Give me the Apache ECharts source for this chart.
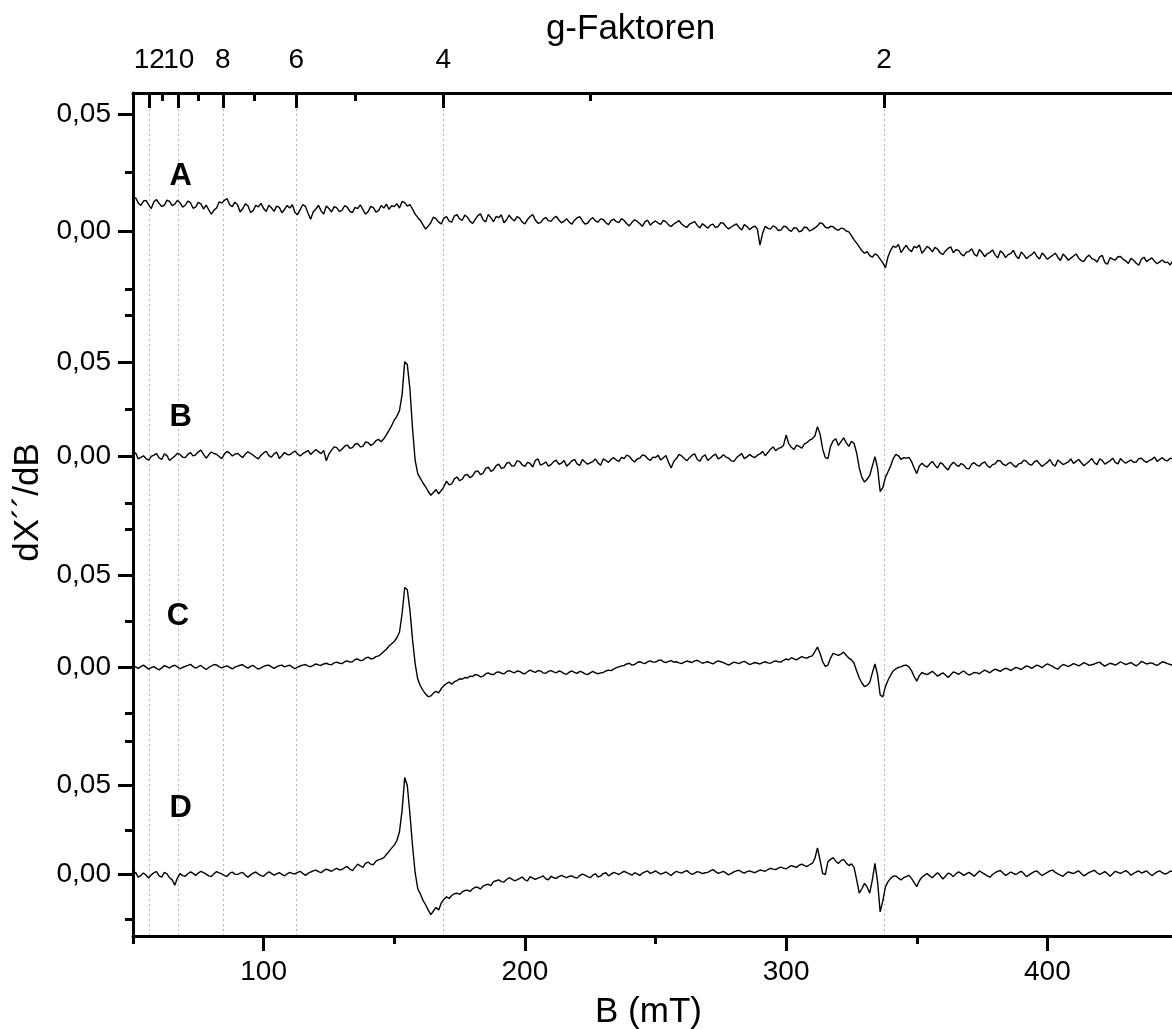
<!DOCTYPE html>
<html>
<head>
<meta charset="utf-8">
<style>html,body{margin:0;padding:0;background:#fff;}#chart{width:1172px;height:1029px;}</style>
<script src="https://cdn.jsdelivr.net/npm/echarts@6/dist/echarts.min.js"></script>
</head>
<body>
<div id="chart"></div>
<script>
// ---- data ----
const fieldStart = 50;   // mT
const fieldStep = 1;     // mT
const hvOverMuB = 675;   // g * B (mT)
const gMajor = [12, 10, 8, 6, 4, 2];
const gMinor = [11, 9, 7, 5, 3];
const bMajorTicks = [100, 200, 300, 400];
const bMinorTicks = [50, 150, 250, 350, 450];
const yMajorTicks = [0, 0.05];
const panelNames = ['A', 'B', 'C', 'D'];
const panelLabelX = [68.3, 68.3, 67.2, 68.3];
const panelLabelY = [0.0231, 0.0211, 0.0278, 0.0371];

const traceA = [
.0135,.0142,.0120,.0109,.0128,.0131,.0112,.0096,.0125,.0134,.0118,.0105,.0110,.0132,.0127,.0108,.0115,.0131,.0121,.0102,
.0110,.0128,.0121,.0097,.0103,.0122,.0116,.0094,.0111,.0090,.0072,.0089,.0098,.0125,.0119,.0131,.0139,.0112,.0104,.0123,
.0112,.0081,.0095,.0116,.0108,.0079,.0087,.0110,.0103,.0118,.0096,.0083,.0110,.0099,.0084,.0106,.0101,.0078,.0092,.0109,
.0098,.0112,.0079,.0070,.0091,.0113,.0105,.0076,.0050,.0082,.0094,.0110,.0086,.0072,.0107,.0096,.0081,.0104,.0099,.0083,
.0088,.0108,.0102,.0084,.0079,.0101,.0096,.0112,.0091,.0072,.0083,.0105,.0100,.0081,.0087,.0109,.0098,.0115,.0092,.0108,
.0104,.0117,.0098,.0126,.0121,.0106,.0113,.0094,.0072,.0058,.0045,.0026,.0008,.0021,.0035,.0060,.0052,.0038,.0030,.0055,
.0061,.0042,.0038,.0064,.0070,.0052,.0045,.0068,.0059,.0041,.0032,.0050,.0066,.0073,.0048,.0039,.0071,.0056,.0040,.0062,
.0057,.0069,.0035,.0048,.0068,.0052,.0043,.0061,.0055,.0038,.0030,.0049,.0062,.0070,.0047,.0033,.0036,.0050,.0058,.0044,
.0041,.0055,.0063,.0047,.0035,.0042,.0052,.0038,.0029,.0046,.0056,.0061,.0044,.0030,.0033,.0049,.0057,.0043,.0038,.0052,
.0049,.0035,.0027,.0044,.0051,.0040,.0036,.0053,.0045,.0031,.0022,.0037,.0048,.0041,.0031,.0020,.0040,.0046,.0025,.0036,
.0043,.0034,.0028,.0045,.0039,.0026,.0019,.0030,.0037,.0044,.0030,.0021,.0016,.0029,.0035,.0040,.0024,.0013,.0031,.0022,
.0012,.0025,.0029,.0014,.0020,.0036,.0033,.0018,.0009,.0017,.0024,.0030,.0015,.0004,.0027,.0019,.0006,.0015,.0021,.0008,
-.0060,-.0010,.0020,.0011,.0008,.0022,.0016,.0002,.0004,.0020,.0018,.0005,-.0002,.0014,.0012,-.0004,.0001,.0017,.0014,.0000,
.0006,.0013,.0022,.0035,.0031,.0016,.0012,.0020,.0018,.0008,.0003,.0012,.0010,.0000,-.0004,-.0020,-.0038,-.0052,-.0068,-.0084,
-.0095,-.0088,-.0105,-.0112,-.0098,-.0104,-.0120,-.0135,-.0158,-.0110,-.0082,-.0065,-.0070,-.0058,-.0092,-.0075,-.0061,-.0079,-.0088,-.0066,
-.0072,-.0060,-.0095,-.0081,-.0066,-.0074,-.0089,-.0070,-.0078,-.0094,-.0101,-.0085,-.0074,-.0068,-.0093,-.0080,-.0083,-.0099,-.0106,-.0090,
-.0088,-.0076,-.0099,-.0108,-.0079,-.0092,-.0110,-.0097,-.0092,-.0081,-.0102,-.0115,-.0085,-.0095,-.0114,-.0101,-.0096,-.0083,-.0107,-.0119,
-.0090,-.0102,-.0118,-.0108,-.0101,-.0089,-.0109,-.0120,-.0094,-.0106,-.0121,-.0112,-.0104,-.0095,-.0112,-.0126,-.0098,-.0110,-.0125,-.0116,
-.0107,-.0098,-.0116,-.0127,-.0130,-.0112,-.0103,-.0118,-.0122,-.0133,-.0111,-.0104,-.0135,-.0142,-.0114,-.0120,-.0124,-.0110,-.0109,-.0121,
-.0128,-.0139,-.0117,-.0125,-.0138,-.0146,-.0120,-.0112,-.0131,-.0122,-.0115,-.0129,-.0140,-.0132,-.0124,-.0135,-.0133,-.0145,-.0127,-.0119,
-.0135
];
const traceB = [
.0010,.0021,-.0012,-.0004,.0005,-.0010,-.0018,.0002,.0008,.0016,-.0006,-.0015,.0015,.0006,-.0020,-.0008,.0003,.0018,.0012,-.0003,
-.0005,.0012,.0022,.0004,.0010,.0026,.0035,.0012,-.0008,.0010,.0025,.0017,.0012,.0001,-.0010,.0015,.0028,.0019,.0004,.0013,
.0018,.0006,-.0004,.0014,.0026,.0017,.0008,-.0003,-.0012,.0008,.0020,.0029,.0006,-.0002,.0015,.0024,-.0009,.0005,.0022,.0012,
.0010,.0021,.0030,.0015,.0004,.0016,.0024,.0033,.0012,.0025,.0038,.0027,.0016,.0034,-.0022,.0014,.0035,.0052,.0048,.0030,
.0040,.0056,.0062,.0045,.0048,.0066,.0070,.0052,.0055,.0078,.0075,.0060,.0068,.0085,.0092,.0080,.0095,.0118,.0140,.0165,
.0195,.0215,.0245,.0330,.0505,.0490,.0360,.0150,-.0020,-.0090,-.0115,-.0140,-.0160,-.0185,-.0205,-.0190,-.0175,-.0198,-.0180,-.0160,
-.0130,-.0150,-.0145,-.0118,-.0108,-.0128,-.0120,-.0098,-.0095,-.0112,-.0102,-.0080,-.0075,-.0095,-.0088,-.0062,-.0055,-.0078,-.0070,-.0048,
-.0040,-.0062,-.0058,-.0035,-.0030,-.0050,-.0048,-.0022,-.0025,-.0044,-.0052,-.0030,-.0036,-.0055,-.0020,-.0012,-.0045,-.0038,-.0028,-.0050,
-.0042,-.0026,-.0018,-.0040,-.0035,-.0020,-.0050,-.0038,-.0022,-.0014,-.0038,-.0047,-.0015,-.0028,-.0040,-.0033,-.0026,-.0012,-.0033,-.0045,
-.0012,-.0020,-.0030,-.0014,-.0005,-.0018,-.0025,-.0004,-.0010,.0008,.0002,-.0016,-.0028,-.0012,-.0008,.0010,.0005,-.0010,-.0020,-.0002,
-.0004,.0008,-.0018,-.0006,.0006,-.0030,-.0060,-.0025,-.0010,.0012,.0004,-.0010,-.0022,-.0005,.0008,.0015,-.0015,-.0024,.0000,.0010,
-.0020,-.0008,.0005,.0014,-.0012,-.0004,.0010,-.0002,-.0008,-.0022,-.0025,-.0006,.0006,.0016,-.0010,-.0001,.0012,.0002,-.0005,.0008,
.0015,.0028,.0005,.0022,.0040,.0052,.0032,.0044,.0048,.0060,.0115,.0070,.0050,.0038,.0062,.0055,.0045,.0068,.0075,.0088,
.0095,.0110,.0160,.0120,.0040,-.0005,-.0010,.0055,.0085,.0095,.0060,.0080,.0100,.0075,.0055,.0082,.0070,.0020,-.0060,-.0110,
-.0135,-.0120,-.0100,-.0050,.0000,-.0060,-.0185,-.0165,-.0110,-.0080,-.0050,-.0010,.0012,.0005,-.0015,-.0005,-.0008,-.0004,-.0025,-.0060,
-.0090,-.0050,-.0035,-.0048,-.0055,-.0038,-.0025,-.0046,-.0060,-.0032,-.0040,-.0058,-.0070,-.0045,-.0030,-.0042,-.0052,-.0036,-.0045,-.0062,
-.0065,-.0040,-.0032,-.0045,-.0050,-.0035,-.0028,-.0048,-.0058,-.0042,-.0038,-.0020,-.0022,-.0040,-.0048,-.0036,-.0030,-.0046,-.0055,-.0038,
-.0035,-.0018,-.0025,-.0040,-.0045,-.0028,-.0020,-.0038,-.0052,-.0040,-.0030,-.0015,-.0040,-.0050,-.0018,-.0030,-.0042,-.0035,-.0028,-.0012,
-.0036,-.0025,-.0015,-.0032,-.0048,-.0036,-.0025,-.0010,-.0032,-.0042,-.0012,-.0020,-.0040,-.0030,-.0022,-.0008,-.0030,-.0038,-.0010,-.0024,
-.0035,-.0025,-.0018,-.0030,-.0028,-.0010,-.0008,-.0022,-.0030,-.0020,-.0015,-.0002,-.0025,-.0015,-.0005,-.0018,-.0022,-.0008,-.0012,-.0025,
-.0018
];
const traceC = [
.0008,.0002,-.0006,.0004,.0012,.0001,-.0010,-.0002,.0004,-.0006,-.0014,-.0003,.0009,.0003,-.0004,.0006,.0011,.0002,-.0008,-.0001,
.0005,.0010,.0016,.0004,-.0005,.0003,.0010,-.0002,-.0012,-.0001,.0007,.0015,.0013,.0002,-.0003,.0004,.0008,.0000,-.0009,.0001,
.0006,.0011,.0014,.0003,-.0004,.0005,.0010,-.0001,-.0010,-.0003,.0005,.0010,.0012,.0002,-.0006,.0003,.0009,.0012,.0002,.0008,
.0011,.0001,-.0008,.0001,.0007,.0012,.0015,.0008,.0003,.0011,.0018,.0013,.0010,.0018,.0022,.0016,.0014,.0024,.0028,.0022,
.0020,.0030,.0035,.0028,.0030,.0042,.0045,.0036,.0038,.0050,.0055,.0046,.0048,.0058,.0062,.0072,.0085,.0098,.0115,.0128,
.0140,.0160,.0190,.0290,.0432,.0420,.0310,.0150,.0020,-.0065,-.0100,-.0125,-.0145,-.0160,-.0155,-.0140,-.0130,-.0138,-.0115,-.0100,
-.0088,-.0080,-.0092,-.0078,-.0072,-.0062,-.0065,-.0055,-.0058,-.0048,-.0050,-.0040,-.0042,-.0052,-.0048,-.0035,-.0030,-.0038,-.0040,-.0028,
-.0025,-.0032,-.0036,-.0024,-.0018,-.0025,-.0030,-.0020,-.0022,-.0032,-.0035,-.0024,-.0015,-.0022,-.0028,-.0018,-.0020,-.0030,-.0032,-.0022,
-.0018,-.0025,-.0030,-.0020,-.0024,-.0034,-.0038,-.0026,-.0020,-.0028,-.0033,-.0022,-.0026,-.0036,-.0040,-.0030,-.0022,-.0030,-.0035,-.0030,
-.0028,-.0020,-.0015,-.0018,-.0010,-.0002,.0002,.0008,.0010,.0018,.0022,.0012,.0015,.0026,.0030,.0024,.0020,.0030,.0035,.0028,
.0028,.0036,.0040,.0030,.0025,.0032,.0036,.0028,.0030,.0024,.0020,.0028,.0034,.0030,.0026,.0035,.0038,.0030,.0022,.0027,
.0030,.0024,.0018,.0028,.0035,.0030,.0025,.0018,.0012,.0020,.0028,.0024,.0020,.0028,.0032,.0024,.0015,.0020,.0026,.0022,
.0018,.0025,.0030,.0024,.0022,.0030,.0035,.0030,.0028,.0038,.0045,.0040,.0052,.0046,.0040,.0050,.0058,.0052,.0050,.0058,
.0062,.0085,.0110,.0075,.0030,.0005,.0012,.0050,.0075,.0070,.0065,.0072,.0082,.0065,.0050,.0040,.0022,-.0020,-.0058,-.0085,
-.0105,-.0098,-.0082,-.0030,.0018,-.0040,-.0150,-.0160,-.0105,-.0070,-.0042,-.0020,-.0008,.0000,.0002,.0010,.0012,.0002,-.0018,-.0050,
-.0075,-.0045,-.0028,-.0035,-.0040,-.0030,-.0022,-.0035,-.0048,-.0038,-.0030,-.0042,-.0055,-.0040,-.0025,-.0030,-.0038,-.0028,-.0020,-.0032,
-.0042,-.0035,-.0028,-.0030,-.0035,-.0024,-.0015,-.0022,-.0030,-.0018,-.0010,-.0016,-.0022,-.0012,-.0005,-.0010,-.0018,-.0008,.0000,-.0006,
-.0012,-.0002,.0008,.0002,-.0006,.0004,.0012,.0006,-.0002,.0010,.0018,.0012,.0005,-.0004,-.0010,.0004,.0015,.0010,.0004,.0012,
.0020,.0014,.0008,.0016,.0025,.0018,.0010,.0014,.0018,.0024,.0028,.0016,.0006,.0014,.0022,.0018,.0012,.0020,.0030,.0022,
.0015,.0020,.0026,.0016,.0008,.0018,.0032,.0025,.0018,.0022,.0024,.0016,.0010,.0020,.0030,.0026,.0020,.0015,.0012,.0020,
.0025
];
const traceD = [
.0005,.0012,-.0015,-.0006,.0008,-.0004,-.0020,-.0002,.0010,.0016,-.0008,-.0015,.0012,.0004,-.0018,-.0030,-.0060,-.0020,.0005,-.0006,
-.0010,.0004,.0015,.0006,-.0005,.0008,.0018,.0010,.0002,-.0008,-.0012,.0004,.0016,.0009,.0004,-.0006,-.0010,.0006,.0014,.0002,
.0000,.0008,.0012,-.0004,-.0015,-.0002,.0008,.0014,.0002,-.0006,-.0010,.0004,.0015,.0006,-.0004,.0003,.0010,.0001,-.0008,.0004,
.0012,.0006,.0003,.0012,.0018,.0006,-.0005,.0006,.0014,.0020,.0025,.0016,.0010,.0022,.0030,.0024,.0018,.0028,.0035,.0026,
.0028,.0038,.0045,.0030,.0022,.0040,.0058,.0048,.0040,.0062,.0070,.0058,.0055,.0075,.0082,.0088,.0095,.0112,.0130,.0148,
.0165,.0190,.0240,.0360,.0545,.0500,.0340,.0160,.0010,-.0080,-.0110,-.0145,-.0170,-.0200,-.0225,-.0205,-.0185,-.0200,-.0160,-.0140,
-.0125,-.0135,-.0118,-.0108,-.0105,-.0112,-.0098,-.0090,-.0088,-.0095,-.0080,-.0072,-.0072,-.0082,-.0065,-.0058,-.0055,-.0062,-.0040,-.0035,
-.0030,-.0040,-.0042,-.0028,-.0018,-.0026,-.0035,-.0030,-.0022,-.0014,-.0030,-.0036,-.0012,-.0020,-.0028,-.0020,-.0015,-.0008,-.0024,-.0030,
-.0010,-.0018,-.0022,-.0012,-.0005,-.0012,-.0018,-.0010,-.0008,-.0016,-.0020,-.0006,.0002,-.0004,-.0012,-.0018,-.0004,.0004,-.0015,-.0008,
.0005,.0010,-.0008,.0002,.0012,.0006,.0000,.0010,.0018,.0010,.0004,-.0004,.0010,.0004,-.0005,.0008,.0015,.0020,.0006,.0012,
.0020,.0010,.0002,.0008,.0014,.0004,-.0006,.0008,.0018,.0012,.0008,.0016,.0022,.0010,.0000,.0008,.0016,.0012,.0005,.0010,
.0012,.0020,.0028,.0016,.0006,.0012,.0018,.0008,-.0002,.0006,.0015,.0020,.0024,.0014,.0008,.0016,.0020,.0015,.0010,.0018,
.0025,.0022,.0018,.0028,.0035,.0030,.0028,.0036,.0042,.0036,.0032,.0042,.0050,.0045,.0040,.0052,.0058,.0050,.0045,.0055,
.0062,.0090,.0150,.0080,.0005,.0000,.0072,.0085,.0095,.0075,.0062,.0078,.0085,.0065,.0050,.0060,.0040,-.0030,-.0105,-.0080,
-.0050,-.0070,-.0105,-.0030,.0062,-.0040,-.0210,-.0150,-.0070,-.0040,-.0022,-.0010,-.0008,-.0020,-.0030,-.0018,-.0012,-.0005,-.0022,-.0045,
-.0068,-.0035,-.0015,-.0004,.0005,-.0008,-.0018,-.0002,.0010,-.0006,-.0025,-.0010,.0008,.0002,-.0012,.0004,.0015,.0006,-.0005,.0004,
.0012,.0002,-.0010,.0006,.0020,.0010,.0002,-.0008,-.0015,.0000,.0010,.0018,.0022,.0008,-.0005,.0004,.0014,.0006,.0000,.0010,
.0018,.0004,-.0012,-.0002,.0008,.0016,.0020,.0006,-.0006,.0004,.0012,.0020,.0025,.0012,.0003,-.0004,-.0010,.0004,.0015,.0010,
.0005,.0014,.0020,.0006,-.0008,.0002,.0012,.0018,.0024,.0010,.0000,.0008,.0016,.0004,-.0010,.0004,.0018,.0012,.0006,.0014,
.0022,.0012,-.0004,.0006,.0014,.0020,.0008,.0014,.0020,.0006,-.0006,.0004,.0015,.0020,.0010,.0002,.0008,.0018,.0018,.0012,
.0008
];
const traces = [traceA, traceB, traceC, traceD];
const yMinorTicks = [[-0.025, 0.025], [-0.025, 0.025, 0.075], [-0.025, 0.025, 0.075], [-0.025, 0.025, 0.075]];

// ---- layout ----
const FONT = '"Liberation Sans", Arial, Helvetica, sans-serif';
const gridLeft = 133, gridWidth = 1045;
const panelTop = [93, 300, 514, 724];
const panelHeight = [207, 214, 210, 212];
const panelMin = [-0.02949, -0.03048, -0.03072, -0.03455];
const panelMax = [0.05897, 0.08335, 0.08305, 0.08455];

const fields = traceA.map((_, i) => fieldStart + i * fieldStep);
const fmtY = v => v.toFixed(2).replace('.', ',');

const grids = panelTop.map((t, i) => ({left: gridLeft, width: gridWidth, top: t, height: panelHeight[i], containLabel: false, outerBoundsMode: 'none'}));
grids.push({left: gridLeft, width: gridWidth, top: 93, height: 843, containLabel: false, outerBoundsMode: 'none'});

const axisLine = {show: true, onZero: false, lineStyle: {color: '#000', width: 3}};
const noLine = {show: false, onZero: false};
const tickStyle = {width: 3, color: '#000'};
const labelBase = {fontSize: 28, color: '#000', fontFamily: FONT, hideOverlap: false};
const AXZ = 10;
const xAxes = [];
for (let i = 0; i < 3; i++) xAxes.push({type: 'value', gridIndex: i, min: 50, max: 450, show: false, axisLine: noLine});
// 3: bottom major
xAxes.push({
  type: 'value', gridIndex: 3, min: 50, max: 450, position: 'bottom', z: AXZ,
  axisLine: axisLine, splitLine: {show: false},
  axisTick: {show: true, inside: false, length: 15, lineStyle: tickStyle, customValues: bMajorTicks},
  axisLabel: Object.assign({show: true, margin: 22, customValues: bMajorTicks}, labelBase),
  name: 'B (mT)', nameLocation: 'middle', nameGap: 59,
  nameTextStyle: {fontSize: 35, color: '#000', fontFamily: FONT, padding: [0, 14, 0, 0]}
});
// 4: bottom minor
xAxes.push({
  type: 'value', gridIndex: 3, min: 50, max: 450, position: 'bottom', z: AXZ,
  axisLine: noLine, splitLine: {show: false}, axisLabel: {show: false},
  axisTick: {show: true, inside: false, length: 8, lineStyle: tickStyle, customValues: bMinorTicks}
});
const gMajorB = gMajor.map(g => hvOverMuB / g);
const gMinorB = gMinor.map(g => hvOverMuB / g);
const gLabelsEven = gMajorB.filter((_, i) => i % 2 === 0);
const gLabelsOdd = gMajorB.filter((_, i) => i % 2 === 1);
const gFmt = v => String(Math.round(hvOverMuB / v));
// 5: top major (g)
xAxes.push({
  type: 'value', gridIndex: 4, min: 50, max: 450, position: 'top', z: AXZ,
  axisLine: axisLine, splitLine: {show: false},
  axisTick: {show: true, inside: true, length: 15, lineStyle: tickStyle, customValues: gMajorB},
  axisLabel: Object.assign({show: true, margin: 19, customValues: gLabelsEven, formatter: gFmt}, labelBase),
  name: 'g-Faktoren', nameLocation: 'middle', nameGap: 46, nameMoveOverlap: false,
  nameTextStyle: {fontSize: 35, color: '#000', fontFamily: FONT, padding: [0, 50, 0, 0]}
});
// 6: top minor (g)
xAxes.push({
  type: 'value', gridIndex: 4, min: 50, max: 450, position: 'top', z: AXZ,
  axisLine: noLine, splitLine: {show: false}, axisLabel: {show: false},
  axisTick: {show: true, inside: true, length: 8, lineStyle: tickStyle, customValues: gMinorB}
});
// 7: top labels for remaining g values
xAxes.push({
  type: 'value', gridIndex: 4, min: 50, max: 450, position: 'top', z: AXZ,
  axisLine: noLine, splitLine: {show: false}, axisTick: {show: false},
  axisLabel: Object.assign({show: true, margin: 19, customValues: gLabelsOdd, formatter: gFmt}, labelBase)
});

const yAxes = [];
for (let i = 0; i < 4; i++) {
  yAxes.push({
    type: 'value', gridIndex: i, min: panelMin[i], max: panelMax[i], position: 'left', z: AXZ,
    axisLine: axisLine, splitLine: {show: false},
    axisTick: {show: true, inside: false, length: 15, lineStyle: tickStyle, customValues: yMajorTicks},
    axisLabel: Object.assign({show: true, margin: 22, customValues: yMajorTicks, formatter: fmtY}, labelBase)
  });
}
for (let i = 0; i < 4; i++) {
  yAxes.push({
    type: 'value', gridIndex: i, min: panelMin[i], max: panelMax[i], position: 'left', z: AXZ,
    axisLine: noLine, splitLine: {show: false}, axisLabel: {show: false},
    axisTick: {show: true, inside: false, length: 8, lineStyle: tickStyle, customValues: yMinorTicks[i]}
  });
}
yAxes.push({
  type: 'value', gridIndex: 4, min: 0, max: 1, position: 'left',
  axisLine: noLine, axisTick: {show: false}, axisLabel: {show: false}, splitLine: {show: false},
  name: 'dX\u00B4\u00B4/dB', nameLocation: 'middle', nameGap: 87, nameRotate: 90,
  nameTextStyle: {fontSize: 35, color: '#000', fontFamily: FONT, padding: [0, 0, 0, 24]}
});

const series = traces.map((tr, i) => ({
  type: 'line', xAxisIndex: i, yAxisIndex: i,
  data: tr.map((v, k) => [fields[k], v]),
  showSymbol: false, symbol: 'none', animation: false, z: 5,
  lineStyle: {color: '#000', width: 1.4},
  markPoint: {
    symbol: 'rect', symbolSize: 1, silent: true, animation: false,
    itemStyle: {color: 'rgba(0,0,0,0)'},
    label: {show: true, position: 'inside', formatter: panelNames[i], fontSize: 31, fontWeight: 'bold', color: '#000', fontFamily: FONT},
    data: [{coord: [panelLabelX[i], panelLabelY[i]]}]
  }
}));
series.push({
  type: 'line', xAxisIndex: 5, yAxisIndex: 8, data: [[50, 0.5]], symbol: 'none', animation: false, z: 0,
  lineStyle: {opacity: 0},
  markLine: {
    silent: true, symbol: ['none', 'none'], animation: false, label: {show: false},
    lineStyle: {color: '#b4b4b4', type: [2, 3], width: 1},
    data: gMajorB.map(b => ({xAxis: b}))
  }
});

const chart = echarts.init(document.getElementById('chart'), null, {renderer: 'canvas'});
chart.setOption({
  backgroundColor: '#fff',
  animation: false,
  grid: grids,
  xAxis: xAxes,
  yAxis: yAxes,
  series: series
});
</script>
</body>
</html>
